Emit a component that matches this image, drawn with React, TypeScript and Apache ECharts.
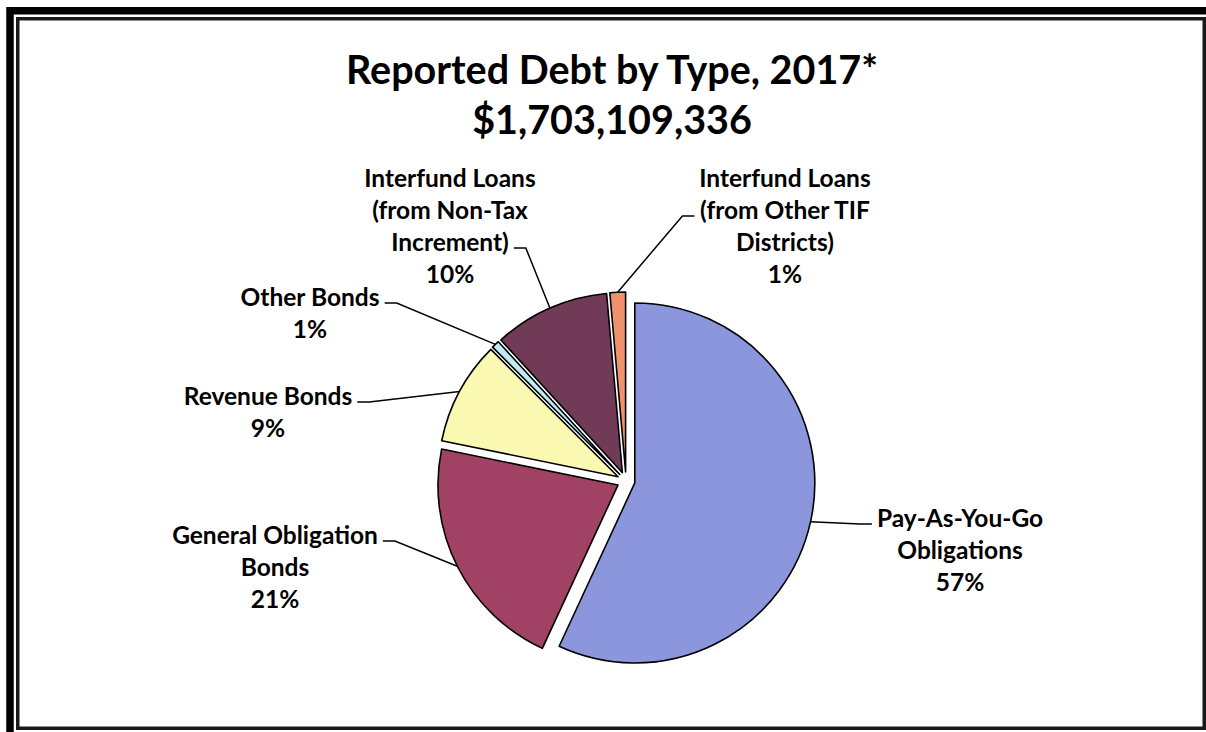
import React, { useEffect, useRef } from "react";
import * as echarts from "echarts";

// ---- data ----
const titleLine = "Reported Debt by Type, 2017*";
const totalLine = "$1,703,109,336";
const categories = [
  "Pay-As-You-Go\nObligations",
  "General Obligation\nBonds",
  "Revenue Bonds",
  "Other Bonds",
  "Interfund Loans\n(from Non-Tax\nIncrement)",
  "Interfund Loans\n(from Other TIF\nDistricts)",
];
const debtMillions = [969.1, 362.8, 158.4, 11.9, 177.1, 23.8];

// ---- styles / layout ----
const sliceColors = ["#8C96DD", "#A14265", "#FBF8B1", "#BFEBF6", "#713A57", "#F0926B"];
// label block centres
const labelAnchors = [
  [960, 549],
  [275, 566],
  [268, 411],
  [310, 312],
  [450, 225],
  [785, 225],
];
// which text line of the label the leader line attaches to
const attachLine = [0, 0, 0, 0, 2, 1];
const FONT = "Lato";
const LABEL_SIZE = 24.5;
const LABEL_LH = 32;
const PIE_CENTER = [626, 481];
const PIE_R = 180;
const EXPLODE = 9;

export default function App() {
  const ref = useRef<HTMLDivElement>(null);
  useEffect(() => {
    if (!ref.current) return;
    const chart = echarts.init(ref.current, undefined, { renderer: "svg" });

    const canvas = document.createElement("canvas");
    const ctx = canvas.getContext("2d")!;
    ctx.font = `bold ${LABEL_SIZE}px ${FONT}`;

    const total = debtMillions.reduce((a, b) => a + b, 0);
    let acc = 0;
    const series = debtMillions.map((v, i) => {
      const mid = ((acc + v / 2) / total) * Math.PI * 2;
      acc += v;
      const cx = PIE_CENTER[0] + EXPLODE * Math.sin(mid);
      const cy = PIE_CENTER[1] - EXPLODE * Math.cos(mid);
      const edge = [cx + PIE_R * Math.sin(mid), cy - PIE_R * Math.cos(mid)];
      return {
        type: "pie",
        center: [cx, cy],
        radius: PIE_R,
        startAngle: 90,
        clockwise: true,
        silent: true,
        avoidLabelOverlap: false,
        minShowLabelAngle: 0,
        emphasis: { disabled: true },
        data: debtMillions.map((w, j) => ({
          value: w,
          name: categories[j],
          itemStyle:
            j === i
              ? { color: sliceColors[j], borderColor: "#000", borderWidth: 1.6 }
              : { color: "rgba(0,0,0,0)", borderColor: "rgba(0,0,0,0)", borderWidth: 0 },
          label: { show: j === i },
          labelLine: { show: j === i },
        })),
        label: {
          show: true,
          position: "outside",
          formatter: (p: any) => `${p.name}\n${Math.round(p.percent)}%`,
          color: "#000",
          fontFamily: FONT,
          fontWeight: "bold",
          fontSize: LABEL_SIZE,
          lineHeight: LABEL_LH,
          align: "center",
        },
        labelLine: {
          show: true,
          length: 15,
          length2: 12,
          smooth: false,
          lineStyle: { color: "#000", width: 1.5 },
        },
        labelLayout: (params: any) => {
          const k = params.dataIndex;
          const a = labelAnchors[k];
          const lines = `${categories[k]}\n${Math.round((debtMillions[k] / total) * 100)}%`.split("\n");
          const n = lines.length;
          const li = attachLine[k];
          const lw = ctx.measureText(lines[li]).width;
          const ay = a[1] - ((n - 1) * LABEL_LH) / 2 + li * LABEL_LH + 7;
          const e =
            params.labelLinePoints && params.labelLinePoints[0]
              ? params.labelLinePoints[0]
              : edge;
          const isLeft = a[0] < e[0];
          const endX = isLeft ? a[0] + lw / 2 + 5 : a[0] - lw / 2 - 5;
          const elbowX = isLeft ? endX + 12 : endX - 12;
          return {
            x: a[0],
            y: a[1],
            align: "center",
            verticalAlign: "middle",
            labelLinePoints: [
              [e[0], e[1]],
              [elbowX, ay],
              [endX, ay],
            ],
          };
        },
      };
    });

    chart.setOption({
      animation: false,
      backgroundColor: "#ffffff",
      title: {
        text: titleLine + "\n" + totalLine,
        left: 612,
        top: 43,
        padding: 0,
        textAlign: "center",
        textStyle: {
          fontFamily: FONT,
          fontWeight: "bold",
          fontSize: 39.5,
          lineHeight: 50,
          color: "#000",
        },
      },
      graphic: [
        {
          type: "rect",
          shape: { x: 10, y: 10.75, width: 1230, height: 760 },
          style: { fill: "none", stroke: "#000", lineWidth: 7.5 },
          silent: true,
        },
        {
          type: "rect",
          shape: { x: 17.75, y: 18.75, width: 1186.5, height: 709.5 },
          style: { fill: "none", stroke: "#1a1a1a", lineWidth: 3.5 },
          silent: true,
        },
      ],
      series,
    });
    return () => chart.dispose();
  }, []);
  return (
    <div
      ref={ref}
      style={{ position: "absolute", left: 0, top: 0, width: 1206, height: 732 }}
    />
  );
}
